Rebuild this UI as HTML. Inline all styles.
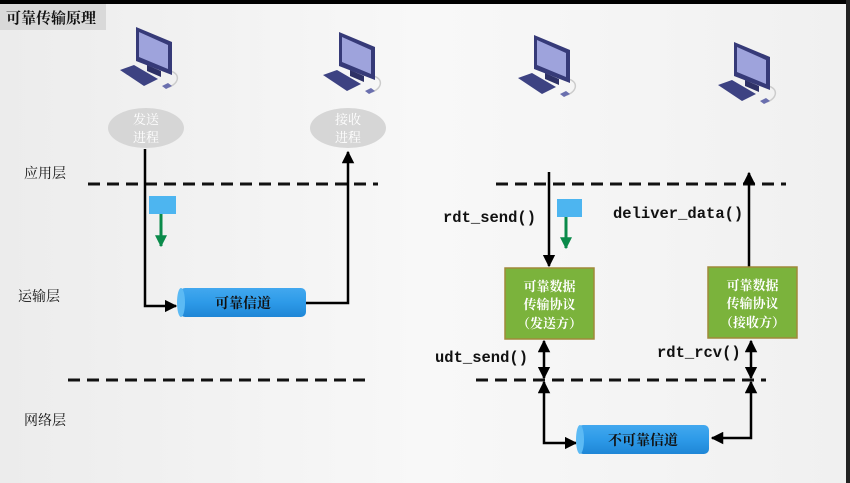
<!DOCTYPE html>
<html><head><meta charset="utf-8"><style>
html,body{margin:0;padding:0;width:850px;height:483px;overflow:hidden;background:#f2f2f2}
svg{display:block}
text{font-family:"Liberation Sans","Noto Sans CJK SC",sans-serif}
.cn{font-family:"Noto Serif CJK SC","Noto Sans CJK SC",serif}
.mono{font-family:"Liberation Mono",monospace;font-weight:bold;font-size:15.5px;fill:#111}
</style></head><body>
<svg width="850" height="483" viewBox="0 0 850 483" xmlns="http://www.w3.org/2000/svg">
<defs>
<linearGradient id="bg" x1="0" y1="0" x2="1" y2="0">
<stop offset="0" stop-color="#ececec"/><stop offset="0.5" stop-color="#f8f8f8"/><stop offset="1" stop-color="#f0f0f0"/></linearGradient>
<g id="pc">
<path d="M50,46 C60,48 60,58 49,62" fill="none" stroke="#ccc" stroke-width="1.5"/>
<polygon points="0,45 14,40 38,54 24,61" fill="#3d4282"/>
<polygon points="42,61 48,58 52,61 46,64" fill="#6a6fae"/>
<polygon points="27,40 41,46 41,52 27,46" fill="#2e3166"/>
<polygon points="16,2 52,17 52,50 16,36" fill="#363a78"/>
<polygon points="19,7 48,20 48,44 19,32" fill="#9ea3dc"/>
</g>
<marker id="ah" viewBox="0 0 10 10" refX="9" refY="5" markerWidth="5" markerHeight="5" orient="auto-start-reverse"><path d="M0,0 L10,5 L0,10 z" fill="#000"/></marker>
<marker id="gh" viewBox="0 0 10 10" refX="9" refY="5" markerWidth="4" markerHeight="4" orient="auto"><path d="M0,0 L10,5 L0,10 z" fill="#0a8a4a"/></marker>
<linearGradient id="cyl" x1="0" y1="0" x2="0" y2="1"><stop offset="0" stop-color="#42a8ef"/><stop offset="0.5" stop-color="#2d9ae8"/><stop offset="1" stop-color="#1f86d6"/></linearGradient>
</defs>
<rect width="850" height="483" fill="url(#bg)"/>
<rect x="0" y="0" width="850" height="4" fill="#000"/>
<rect x="846" y="0" width="4" height="483" fill="#222"/>
<rect x="0" y="4" width="106" height="26" fill="#d9d9d9"/>
<text x="6" y="23" class="cn" font-size="15" font-weight="bold" fill="#111">可靠传输原理</text>

<use href="#pc" x="120" y="25"/>
<use href="#pc" x="323" y="30"/>
<use href="#pc" x="518" y="33"/>
<use href="#pc" x="718" y="40"/>

<ellipse cx="146" cy="128" rx="38" ry="20" fill="#d6d6d6"/>
<text x="146" y="124" text-anchor="middle" class="cn" font-size="13" fill="#fff">发送</text>
<text x="146" y="142" text-anchor="middle" class="cn" font-size="13" fill="#fff">进程</text>
<ellipse cx="348" cy="128" rx="38" ry="20" fill="#d6d6d6"/>
<text x="348" y="124" text-anchor="middle" class="cn" font-size="13" fill="#fff">接收</text>
<text x="348" y="142" text-anchor="middle" class="cn" font-size="13" fill="#fff">进程</text>

<text x="24" y="178" class="cn" font-size="14" fill="#111">应用层</text>
<text x="18" y="301" class="cn" font-size="14" fill="#111">运输层</text>
<text x="24" y="425" class="cn" font-size="14" fill="#111">网络层</text>

<g stroke="#111" stroke-width="3" stroke-dasharray="12,7">
<line x1="88" y1="184" x2="378" y2="184"/>
<line x1="496" y1="184" x2="786" y2="184"/>
<line x1="68" y1="380" x2="372" y2="380"/>
<line x1="476" y1="380" x2="766" y2="380"/>
</g>

<g fill="none" stroke="#000" stroke-width="2.5">
<polyline points="145,149 145,306 176,306" marker-end="url(#ah)"/>
<polyline points="306,303 348,303 348,152" marker-end="url(#ah)"/>
</g>
<rect x="149" y="196" width="27" height="18" fill="#4db5f0"/>
<line x1="161" y1="214" x2="161" y2="246" stroke="#0a8a4a" stroke-width="3" marker-end="url(#gh)"/>
<rect x="180" y="288" width="126" height="29" rx="5" fill="url(#cyl)"/>
<ellipse cx="181" cy="302.5" rx="4" ry="14.5" fill="#5cbaf4"/>
<text x="243" y="308" text-anchor="middle" class="cn" font-size="14" font-weight="bold" fill="#111">可靠信道</text>

<g fill="none" stroke="#000" stroke-width="2.5">
<line x1="549" y1="172" x2="549" y2="266" marker-end="url(#ah)"/>
<line x1="749" y1="267" x2="749" y2="173" marker-end="url(#ah)"/>
<line x1="544" y1="341" x2="544" y2="378" marker-start="url(#ah)" marker-end="url(#ah)"/>
<line x1="751" y1="341" x2="751" y2="378" marker-start="url(#ah)" marker-end="url(#ah)"/>
<polyline points="544,382 544,443 576,443" marker-end="url(#ah)" marker-start="url(#ah)"/>
<polyline points="751,382 751,438 712,438" marker-end="url(#ah)" marker-start="url(#ah)"/>
</g>
<rect x="557" y="199" width="25" height="18" fill="#4db5f0"/>
<line x1="566" y1="217" x2="566" y2="248" stroke="#0a8a4a" stroke-width="3" marker-end="url(#gh)"/>
<text x="443" y="222" class="mono">rdt_send()</text>
<text x="613" y="218" class="mono">deliver_data()</text>
<text x="435" y="362" class="mono">udt_send()</text>
<text x="657" y="357" class="mono">rdt_rcv()</text>

<rect x="505" y="268" width="89" height="71" fill="#7bb33c" stroke="#a0893a" stroke-width="1.5"/>
<text x="549.5" y="291" text-anchor="middle" class="cn" font-size="13" font-weight="bold" fill="#fff">可靠数据</text>
<text x="549.5" y="309" text-anchor="middle" class="cn" font-size="13" font-weight="bold" fill="#fff">传输协议</text>
<text x="549.5" y="328" text-anchor="middle" class="cn" font-size="13" font-weight="bold" fill="#fff">（发送方）</text>
<rect x="708" y="267" width="89" height="71" fill="#7bb33c" stroke="#a0893a" stroke-width="1.5"/>
<text x="752.5" y="290" text-anchor="middle" class="cn" font-size="13" font-weight="bold" fill="#fff">可靠数据</text>
<text x="752.5" y="308" text-anchor="middle" class="cn" font-size="13" font-weight="bold" fill="#fff">传输协议</text>
<text x="752.5" y="327" text-anchor="middle" class="cn" font-size="13" font-weight="bold" fill="#fff">（接收方）</text>

<rect x="578" y="425" width="131" height="29" rx="5" fill="url(#cyl)"/>
<ellipse cx="580" cy="439.5" rx="4" ry="14.5" fill="#5cbaf4"/>
<text x="643" y="445" text-anchor="middle" class="cn" font-size="14" font-weight="bold" fill="#111">不可靠信道</text>
</svg>
</body></html>
